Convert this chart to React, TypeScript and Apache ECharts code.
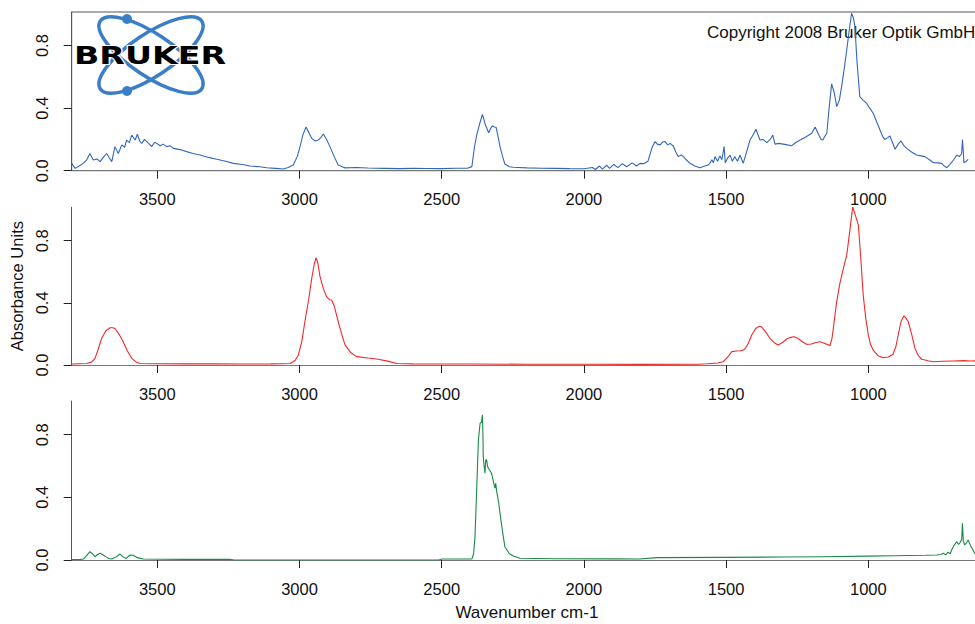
import React, { useEffect, useRef } from "react";
import * as echarts from "echarts";

const xTicks = [3500, 3000, 2500, 2000, 1500, 1000];
const yTicks = [0, 0.4, 0.8];

const blueWn = [3801,3789,3775,3760,3748,3737,3725,3712,3701,3690,3678,3668,3660,3649,3637,3625,3615,3608,3598,3590,3578,3570,3562,3555,3545,3537,3528,3520,3510,3502,3490,3480,3467,3455,3444,3420,3397,3375,3350,3320,3291,3260,3233,3200,3174,3140,3115,3085,3057,3040,3022,3008,2998,2988,2977,2966,2957,2945,2934,2924,2916,2905,2893,2878,2864,2850,2840,2800,2760,2700,2650,2600,2550,2500,2450,2410,2394,2385,2377,2365,2357,2352,2348,2335,2328,2322,2315,2309,2302,2295,2286,2278,2262,2248,2200,2150,2100,2050,2000,1970,1960,1945,1935,1920,1910,1895,1880,1865,1850,1830,1815,1803,1790,1775,1760,1750,1742,1732,1722,1715,1705,1697,1686,1677,1668,1658,1650,1640,1627,1610,1592,1575,1565,1557,1550,1545,1539,1530,1522,1515,1507,1503,1495,1486,1478,1470,1460,1451,1445,1440,1428,1416,1405,1395,1388,1381,1370,1357,1345,1336,1328,1315,1299,1285,1269,1255,1240,1220,1199,1187,1177,1166,1160,1153,1146,1138,1129,1120,1111,1102,1094,1085,1076,1067,1059,1053,1047,1040,1030,1018,1006,995,983,970,959,950,942,933,924,915,906,895,885,875,865,848,830,815,801,785,771,757,742,733,724,713,700,689,680,672,669,666,664,656,649];
const blueAbs = [0.047,0.015,0.03,0.047,0.07,0.11,0.068,0.075,0.058,0.085,0.11,0.08,0.058,0.154,0.11,0.165,0.15,0.196,0.18,0.228,0.196,0.233,0.19,0.175,0.2,0.186,0.17,0.154,0.18,0.175,0.16,0.17,0.154,0.16,0.143,0.135,0.122,0.11,0.1,0.085,0.073,0.06,0.047,0.04,0.03,0.025,0.019,0.015,0.011,0.02,0.036,0.09,0.154,0.23,0.28,0.24,0.207,0.19,0.196,0.215,0.235,0.2,0.154,0.09,0.036,0.025,0.018,0.02,0.017,0.015,0.013,0.015,0.014,0.013,0.016,0.016,0.026,0.15,0.228,0.31,0.36,0.33,0.3,0.243,0.27,0.288,0.28,0.278,0.22,0.154,0.09,0.043,0.025,0.022,0.018,0.016,0.015,0.013,0.012,0.02,0.008,0.03,0.01,0.035,0.015,0.04,0.02,0.045,0.025,0.05,0.03,0.047,0.045,0.06,0.15,0.186,0.17,0.165,0.185,0.186,0.165,0.175,0.158,0.12,0.09,0.1,0.09,0.07,0.047,0.03,0.019,0.03,0.035,0.047,0.07,0.05,0.09,0.06,0.095,0.07,0.154,0.05,0.08,0.1,0.06,0.09,0.06,0.1,0.07,0.047,0.12,0.196,0.23,0.265,0.23,0.196,0.2,0.18,0.2,0.228,0.17,0.175,0.17,0.165,0.16,0.18,0.196,0.215,0.24,0.28,0.24,0.2,0.196,0.22,0.24,0.4,0.555,0.5,0.41,0.45,0.538,0.65,0.772,0.9,1.007,0.98,0.92,0.7,0.474,0.45,0.43,0.4,0.367,0.31,0.26,0.22,0.2,0.21,0.222,0.18,0.137,0.17,0.19,0.16,0.143,0.12,0.1,0.095,0.09,0.07,0.051,0.05,0.047,0.03,0.019,0.04,0.07,0.1,0.09,0.11,0.2,0.12,0.051,0.06,0.073];

const redWn = [3801,3775,3748,3730,3719,3708,3696,3681,3666,3657,3649,3635,3620,3605,3590,3575,3561,3500,3400,3300,3200,3100,3033,3015,3004,2992,2981,2968,2957,2948,2942,2936,2928,2916,2905,2895,2887,2878,2864,2852,2840,2820,2799,2760,2729,2690,2658,2600,2400,2200,2000,1800,1600,1568,1530,1510,1495,1480,1465,1451,1442,1434,1422,1410,1396,1383,1375,1360,1346,1332,1317,1302,1287,1274,1261,1248,1232,1217,1200,1185,1170,1155,1140,1135,1128,1123,1112,1100,1088,1076,1066,1055,1045,1035,1027,1018,1009,1000,992,983,966,948,930,913,903,895,885,875,867,860,848,836,824,812,790,771,740,701,666,640,610];
const redAbs = [0.006,0.008,0.01,0.02,0.043,0.1,0.17,0.22,0.24,0.24,0.235,0.2,0.15,0.09,0.043,0.02,0.01,0.008,0.007,0.007,0.006,0.007,0.01,0.03,0.064,0.15,0.28,0.42,0.557,0.65,0.69,0.66,0.57,0.49,0.44,0.42,0.418,0.38,0.28,0.2,0.13,0.08,0.054,0.045,0.039,0.025,0.01,0.007,0.006,0.005,0.005,0.004,0.005,0.008,0.013,0.021,0.05,0.086,0.09,0.092,0.095,0.103,0.14,0.193,0.235,0.25,0.245,0.21,0.172,0.145,0.129,0.145,0.167,0.178,0.182,0.172,0.15,0.133,0.135,0.145,0.15,0.14,0.128,0.124,0.17,0.236,0.4,0.525,0.62,0.707,0.85,1.018,0.96,0.9,0.7,0.45,0.3,0.193,0.13,0.096,0.06,0.047,0.052,0.069,0.12,0.193,0.28,0.317,0.3,0.28,0.2,0.107,0.06,0.037,0.027,0.021,0.024,0.026,0.028,0.026,0.027];

const greenWn = [3801,3770,3760,3748,3737,3728,3719,3710,3701,3690,3680,3670,3660,3645,3631,3620,3610,3596,3585,3570,3549,3400,3244,3230,2600,2510,2500,2394,2388,2383,2377,2371,2365,2360,2357,2355,2354,2351,2348,2345,2342,2339,2336,2330,2325,2318,2313,2310,2307,2300,2295,2286,2278,2262,2248,2225,2100,1900,1803,1744,1500,1300,1158,1000,913,800,760,745,736,728,720,712,707,700,689,683,678,672,669,666,661,655,649,640,632,625];
const greenAbs = [0.003,0.004,0.006,0.03,0.053,0.04,0.021,0.035,0.043,0.032,0.02,0.01,0.006,0.02,0.038,0.02,0.01,0.032,0.03,0.015,0.006,0.004,0.004,0,0,0,0.006,0.006,0.04,0.149,0.45,0.767,0.873,0.88,0.927,0.8,0.66,0.6,0.554,0.64,0.639,0.6,0.586,0.57,0.554,0.5,0.458,0.49,0.44,0.37,0.298,0.18,0.085,0.04,0.026,0.011,0.008,0.007,0.006,0.015,0.017,0.019,0.021,0.025,0.027,0.03,0.032,0.035,0.043,0.033,0.05,0.04,0.064,0.09,0.117,0.1,0.11,0.13,0.234,0.12,0.096,0.11,0.128,0.09,0.064,0.04];

const zip = (a: number[], b: number[]) => a.map((v, i) => [v, b[i]]);

const FONT = '"Liberation Sans", Arial, sans-serif';

export default function App() {
  const ref = useRef<HTMLDivElement>(null);
  useEffect(() => {
    if (!ref.current) return;
    const chart = echarts.init(ref.current, null, { renderer: "svg" });
    const grids = [
      { left: 71.7, top: 12, width: 910.4, height: 158.7 },
      { left: 71.7, top: 207.3, width: 910.4, height: 157.7 },
      { left: 71.7, top: 401, width: 910.4, height: 159 },
    ];
    const xAxis = grids.map((_, i) => ({
      type: "value",
      gridIndex: i,
      inverse: true,
      min: 600,
      max: 3801,
      splitLine: { show: false },
      axisLine: { lineStyle: { color: "#777", width: 1.2 } },
      axisTick: { customValues: xTicks, length: 8, lineStyle: { color: "#222" } },
      axisLabel: {
        customValues: xTicks,
        margin: 20,
        fontSize: 16.5,
        fontFamily: FONT,
        color: "#111",
        formatter: (v: number) => String(v),
      },
      name: i === 2 ? "Wavenumber cm-1" : "",
      nameLocation: "middle",
      nameGap: 44,
      nameTextStyle: { fontSize: 17, fontFamily: FONT, color: "#111" },
    }));
    const yAxis = grids.map((_, i) => ({
      type: "value",
      gridIndex: i,
      min: 0,
      max: 1.015,
      splitLine: { show: false },
      axisLine: { show: true, lineStyle: { color: "#555", width: 1 } },
      axisTick: { show: true, customValues: yTicks, length: 8, lineStyle: { color: "#222" } },
      axisLabel: {
        customValues: yTicks,
        rotate: 90,
        margin: 21,
        fontSize: 16.5,
        fontFamily: FONT,
        color: "#111",
        formatter: (v: number) => v.toFixed(1),
      },
      name: i === 1 ? "Absorbance Units" : "",
      nameLocation: "middle",
      nameGap: 46,
      nameTextStyle: { fontSize: 16.5, fontFamily: FONT, color: "#111" },
    }));
    const mk = (i: number, data: number[][], color: string) => ({
      type: "line",
      xAxisIndex: i,
      yAxisIndex: i,
      data,
      showSymbol: false,
      symbol: "none",
      lineStyle: { color, width: 1.1 },
      clip: true,
    });
    chart.setOption({
      animation: false,
      backgroundColor: "#fff",
      grid: grids.map((g, i) =>
        i === 0 ? { ...g, show: true, borderColor: "#555", borderWidth: 1 } : g
      ),
      xAxis,
      yAxis,
      series: [
        mk(0, zip(blueWn, blueAbs), "#3366bb"),
        mk(1, zip(redWn, redAbs), "#ee2a2a"),
        mk(2, zip(greenWn, greenAbs), "#1a8a45"),
      ],
      graphic: [
        {
          type: "ellipse",
          x: 151,
          y: 55,
          rotation: 0.59,
          shape: { cx: 0, cy: 0, rx: 61, ry: 21 },
          style: { fill: "none", stroke: "#3b7ec8", lineWidth: 3.5 },
        },
        {
          type: "ellipse",
          x: 151,
          y: 55,
          rotation: -0.59,
          shape: { cx: 0, cy: 0, rx: 61, ry: 21 },
          style: { fill: "none", stroke: "#3b7ec8", lineWidth: 3.5 },
        },
        { type: "circle", shape: { cx: 127, cy: 19, r: 5 }, style: { fill: "#3b7ec8" } },
        { type: "circle", shape: { cx: 127, cy: 91, r: 5 }, style: { fill: "#3b7ec8" } },
        {
          type: "text",
          x: 74,
          y: 56,
          scaleX: 1.386,
          style: {
            text: "BRUKER",
            font: 'bold 24px "DejaVu Sans"',
            fill: "#000",
            stroke: "#fff",
            lineWidth: 2,
            verticalAlign: "middle",
          },
        },
        {
          type: "text",
          x: 707,
          y: 32,
          style: {
            text: "Copyright 2008 Bruker Optik GmbH",
            font: '17px "Liberation Sans"',
            fill: "#111",
            verticalAlign: "middle",
          },
        },
      ],
    });
    return () => chart.dispose();
  }, []);
  return (
    <div style={{ position: "absolute", left: 0, top: 0, width: 975, height: 624, overflow: "hidden", background: "#fff" }}>
      <div ref={ref} style={{ width: 995, height: 624 }} />
    </div>
  );
}
